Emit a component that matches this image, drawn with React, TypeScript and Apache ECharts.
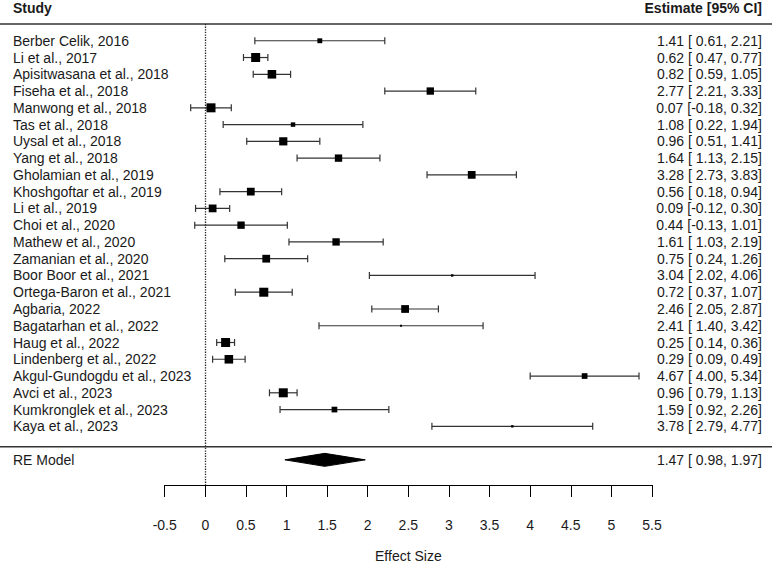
import React, { useEffect, useRef } from "react";
import * as echarts from "echarts";

const studies = [
  "Berber Celik, 2016",
  "Li et al., 2017",
  "Apisitwasana et al., 2018",
  "Fiseha et al., 2018",
  "Manwong et al., 2018",
  "Tas et al., 2018",
  "Uysal et al., 2018",
  "Yang et al., 2018",
  "Gholamian et al., 2019",
  "Khoshgoftar et al., 2019",
  "Li et al., 2019",
  "Choi et al., 2020",
  "Mathew et al., 2020",
  "Zamanian et al., 2020",
  "Boor Boor et al., 2021",
  "Ortega-Baron et al., 2021",
  "Agbaria, 2022",
  "Bagatarhan et al., 2022",
  "Haug et al., 2022",
  "Lindenberg et al., 2022",
  "Akgul-Gundogdu et al., 2023",
  "Avci et al., 2023",
  "Kumkronglek et al., 2023",
  "Kaya et al., 2023",
];
const estimates = [1.41, 0.62, 0.82, 2.77, 0.07, 1.08, 0.96, 1.64, 3.28, 0.56, 0.09, 0.44, 1.61, 0.75, 3.04, 0.72, 2.46, 2.41, 0.25, 0.29, 4.67, 0.96, 1.59, 3.78];
const lower = [0.61, 0.47, 0.59, 2.21, -0.18, 0.22, 0.51, 1.13, 2.73, 0.18, -0.12, -0.13, 1.03, 0.24, 2.02, 0.37, 2.05, 1.4, 0.14, 0.09, 4.0, 0.79, 0.92, 2.79];
const upper = [2.21, 0.77, 1.05, 3.33, 0.32, 1.94, 1.41, 2.15, 3.83, 0.94, 0.3, 1.01, 2.19, 1.26, 4.06, 1.07, 2.87, 3.42, 0.36, 0.49, 5.34, 1.13, 2.26, 4.77];
const weights = [3.9, 4.9, 4.8, 4.5, 4.9, 3.8, 4.7, 4.5, 4.6, 4.6, 4.6, 4.5, 4.5, 4.6, 3.3, 4.9, 4.6, 3.2, 4.9, 4.8, 4.1, 4.9, 4.1, 3.3];
const summaryLabel = "RE Model";
const summaryEst = 1.47;
const summaryLower = 0.98;
const summaryUpper = 1.97;
const xMin = -0.5;
const xMax = 5.5;
const xStep = 0.5;

const fmt = (v: number) => v.toFixed(2);
const padLo = (v: number) => (v < 0 ? fmt(v) : " " + fmt(v));
const ciText = (e: number, l: number, u: number) => `${fmt(e)} [${padLo(l)}, ${fmt(u)}]`;

const W = 776;
const H = 568;
const gridLeft = 164.7;
const gridRight = 652;
const gridTop = 24;
const gridBottom = 489;
const rowMin = -1;
const rowMax = 26.5;
const sepRow = studies.length; // 24
const summaryRow = studies.length + 1; // 25
const rowPx = (r: number) => gridTop + ((r - rowMin) / (rowMax - rowMin)) * (gridBottom - gridTop);

const FONT = "'Liberation Sans', Arial, sans-serif";
const FS = 14;
const TEXT = "#1a1a1a";
const LINE = "#333";
const TEXT_RIGHT = 762;

export default function App() {
  const ref = useRef<HTMLDivElement>(null);
  useEffect(() => {
    if (!ref.current) return;
    const chart = echarts.init(ref.current, undefined, { renderer: "svg" });
    const wMin = Math.min(...weights);
    const wMax = Math.max(...weights);
    const sizeOf = (w: number) => 2 + ((w - wMin) / (wMax - wMin)) * 7;
    const studyData = studies.map((_, i) => [estimates[i], lower[i], upper[i], i, sizeOf(weights[i])]);
    const leftLabel = (v: number) => {
      if (!Number.isInteger(v)) return "";
      if (v >= 0 && v < studies.length) return studies[v];
      if (v === summaryRow) return summaryLabel;
      return "";
    };
    const rightLabel = (v: number) => {
      if (!Number.isInteger(v)) return "";
      if (v >= 0 && v < studies.length) return ciText(estimates[v], lower[v], upper[v]);
      if (v === summaryRow) return ciText(summaryEst, summaryLower, summaryUpper);
      return "";
    };
    const yBase = {
      type: "value" as const,
      min: rowMin,
      max: rowMax,
      interval: 1,
      inverse: true,
      axisLine: { show: false },
      axisTick: { show: false },
      splitLine: { show: false },
    };
    chart.setOption({
      animation: false,
      textStyle: { fontFamily: FONT },
      grid: {
        left: gridLeft,
        right: W - gridRight,
        top: gridTop,
        bottom: H - gridBottom,
        containLabel: false,
      },
      xAxis: {
        type: "value",
        min: xMin,
        max: xMax,
        interval: xStep,
        splitLine: { show: false },
        axisLine: { show: true, onZero: false, lineStyle: { color: "#000", width: 1 } },
        axisTick: { show: true, length: 12, lineStyle: { color: "#000", width: 1 } },
        axisLabel: { color: TEXT, fontSize: FS, margin: 33, fontFamily: FONT },
        name: "Effect Size",
        nameLocation: "middle",
        nameGap: 64,
        nameTextStyle: { color: TEXT, fontSize: FS, fontFamily: FONT },
      },
      yAxis: [
        {
          ...yBase,
          position: "left",
          axisLabel: {
            align: "left",
            margin: gridLeft - 13,
            color: TEXT,
            fontSize: FS,
            fontFamily: FONT,
            formatter: leftLabel,
          },
        },
        {
          ...yBase,
          position: "right",
          axisLabel: {
            align: "right",
            margin: TEXT_RIGHT - gridRight,
            color: TEXT,
            fontSize: FS,
            fontFamily: FONT,
            formatter: rightLabel,
          },
        },
      ],
      graphic: [
        {
          type: "line",
          shape: { x1: 0, y1: rowPx(-1), x2: 772, y2: rowPx(-1) },
          style: { stroke: LINE, lineWidth: 1.3 },
          silent: true,
        },
        {
          type: "line",
          shape: { x1: 0, y1: rowPx(sepRow), x2: 772, y2: rowPx(sepRow) },
          style: { stroke: LINE, lineWidth: 1.3 },
          silent: true,
        },
        {
          type: "text",
          left: 13,
          top: 1,
          style: { text: "Study", font: `bold ${FS}px ${FONT}`, fill: TEXT },
        },
        {
          type: "text",
          right: W - TEXT_RIGHT,
          top: 1,
          style: { text: "Estimate [95% CI]", font: `bold ${FS}px ${FONT}`, fill: TEXT, textAlign: "right" },
        },
      ],
      series: [
        {
          type: "custom",
          name: "studies",
          xAxisIndex: 0,
          yAxisIndex: 0,
          data: studyData,
          encode: { x: [0, 1, 2], y: 3 },
          clip: false,
          renderItem: (params: any, api: any) => {
            const r = api.value(3);
            const p0 = api.coord([api.value(1), r]);
            const p1 = api.coord([api.value(2), r]);
            const pc = api.coord([api.value(0), r]);
            const s = api.value(4);
            const st = { stroke: LINE, lineWidth: 1.2 };
            return {
              type: "group",
              children: [
                { type: "line", shape: { x1: p0[0], y1: p0[1], x2: p1[0], y2: p1[1] }, style: st },
                { type: "line", shape: { x1: p0[0], y1: p0[1] - 3.5, x2: p0[0], y2: p0[1] + 3.5 }, style: st },
                { type: "line", shape: { x1: p1[0], y1: p1[1] - 3.5, x2: p1[0], y2: p1[1] + 3.5 }, style: st },
                {
                  type: "rect",
                  shape: { x: pc[0] - s / 2, y: pc[1] - s / 2, width: s, height: s },
                  style: { fill: "#000" },
                },
              ],
            };
          },
          markLine: {
            silent: true,
            symbol: "none",
            label: { show: false },
            lineStyle: { type: "dotted", color: "#222", width: 1.3 },
            data: [{ xAxis: 0 }],
          },
        },
        {
          type: "custom",
          name: "summary",
          xAxisIndex: 0,
          yAxisIndex: 0,
          data: [[summaryEst, summaryLower, summaryUpper, summaryRow]],
          encode: { x: [0, 1, 2], y: 3 },
          renderItem: (params: any, api: any) => {
            const r = api.value(3);
            const pl = api.coord([api.value(1), r]);
            const ph = api.coord([api.value(2), r]);
            const pc = api.coord([api.value(0), r]);
            const h = 6.5;
            return {
              type: "polygon",
              shape: {
                points: [
                  [pl[0], pl[1]],
                  [pc[0], pc[1] - h],
                  [ph[0], ph[1]],
                  [pc[0], pc[1] + h],
                ],
              },
              style: { fill: "#000", stroke: "#000", lineWidth: 1, lineJoin: "round" },
            };
          },
        },
      ],
    });
    return () => chart.dispose();
  }, []);
  return (
    <div
      ref={ref}
      style={{ position: "fixed", left: 0, top: 0, width: W, height: H, background: "#fff" }}
    />
  );
}
